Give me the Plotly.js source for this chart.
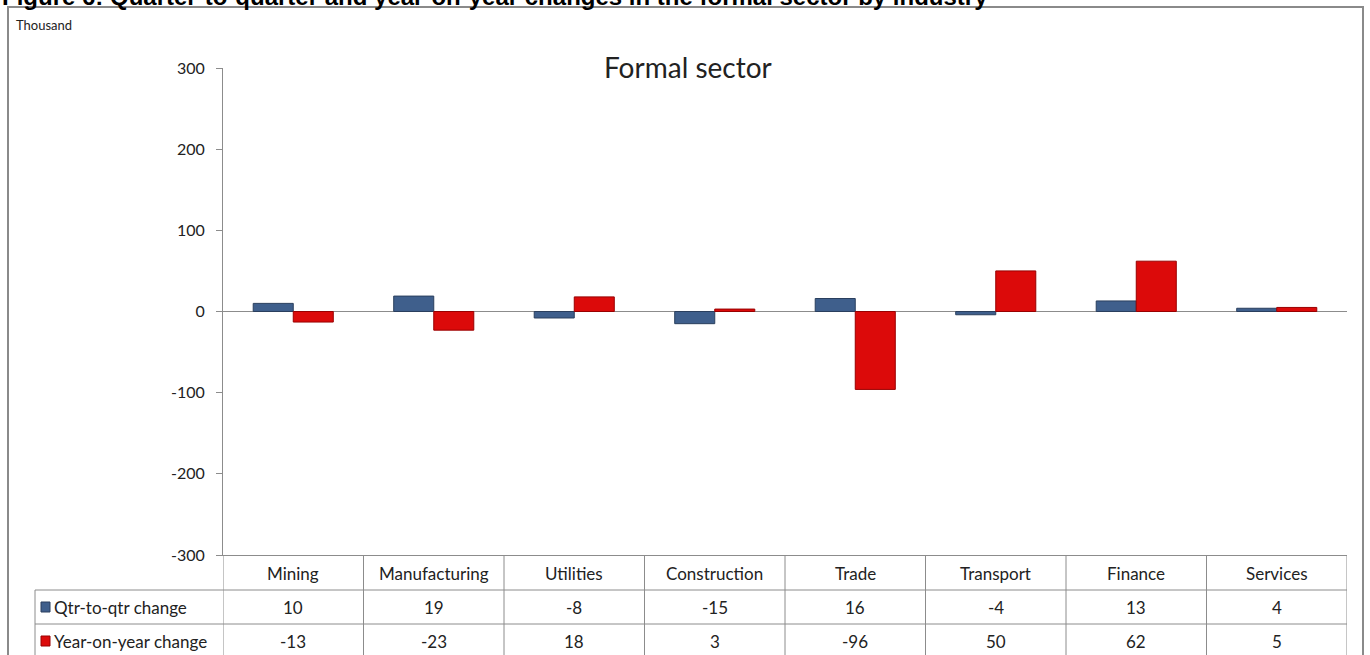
<!DOCTYPE html>
<html>
<head>
<meta charset="utf-8">
<script src="https://cdn.plot.ly/plotly-3.0.1.min.js"></script>
<style>
  html, body { margin: 0; padding: 0; background: #fff; }
  #chart { width: 1370px; height: 655px; }
</style>
</head>
<body>
<div id="chart"></div>
<script>
// ---- Data ----
const categories = ['Mining', 'Manufacturing', 'Utilities', 'Construction', 'Trade', 'Transport', 'Finance', 'Services'];
const qtrChange = [10, 19, -8, -15, 16, -4, 13, 4];
const yoyChange = [-13, -23, 18, 3, -96, 50, 62, 5];
const seriesNames = ['Qtr-to-qtr change', 'Year-on-year change'];
const yTicks = [-300, -200, -100, 0, 100, 200, 300];
const yTickText = ['-300', '-200', '-100', '0', '100', '200', '300'];
const figureTitle = 'Figure 6: Quarter-to-quarter and year-on-year changes in the formal sector by industry';
const chartTitle = 'Formal sector';
const unitLabel = 'Thousand';

// ---- Layout geometry ----
const W = 1370, H = 655;
const M = { l: 223, r: 23, t: 68, b: 100 };
const plotW = W - M.l - M.r, plotH = H - M.t - M.b;
const px = x => (x - M.l) / plotW;          // pixel x -> paper x
const py = y => (H - M.b - y) / plotH;      // pixel y -> paper y

const blue = '#3F5F8C', blueLine = '#2A3F5E';
const red = '#DC0A0A', redLine = '#990000';
const gridCol = '#8c8c8c';
const txtFont = { family: 'Lato, "Open Sans", sans-serif', size: 17, color: '#222' };

const traces = [
  { type: 'bar', x: categories, y: qtrChange, name: seriesNames[0],
    marker: { color: blue, line: { color: blueLine, width: 1 } } },
  { type: 'bar', x: categories, y: yoyChange, name: seriesNames[1],
    marker: { color: red, line: { color: redLine, width: 1 } } }
];

const shapes = [];
const annotations = [];

// outer border
shapes.push({ type: 'rect', xref: 'paper', yref: 'paper',
  x0: px(8), x1: px(1363), y0: py(7), y1: py(720),
  line: { color: '#8a8a8a', width: 2 } });

// table rows geometry (pixels)
const rowMid = [573, 607, 641];
const tableBottom = 720;

// vertical lines at category boundaries
for (let i = 0; i <= categories.length; i++) {
  shapes.push({ type: 'line', xref: 'x', yref: 'paper',
    x0: i - 0.5, x1: i - 0.5, y0: py(555), y1: py(tableBottom),
    line: { color: gridCol, width: 1 } });
}
// horizontal row lines (including label column)
[590, 624].forEach(yy => {
  shapes.push({ type: 'line', xref: 'paper', yref: 'paper',
    x0: px(35), x1: 1, y0: py(yy), y1: py(yy),
    line: { color: gridCol, width: 1 } });
});
// label column left border
shapes.push({ type: 'line', xref: 'paper', yref: 'paper',
  x0: px(35), x1: px(35), y0: py(590), y1: py(tableBottom),
  line: { color: gridCol, width: 1 } });

// header categories and values
categories.forEach((c, i) => {
  annotations.push({ xref: 'x', yref: 'paper', x: i, y: py(rowMid[0]),
    text: c, showarrow: false, font: txtFont, xanchor: 'center', yanchor: 'middle' });
  annotations.push({ xref: 'x', yref: 'paper', x: i, y: py(rowMid[1]),
    text: String(qtrChange[i]), showarrow: false, font: txtFont, xanchor: 'center', yanchor: 'middle' });
  annotations.push({ xref: 'x', yref: 'paper', x: i, y: py(rowMid[2]),
    text: String(yoyChange[i]), showarrow: false, font: txtFont, xanchor: 'center', yanchor: 'middle' });
});

// legend swatches + labels
[[blue, blueLine], [red, redLine]].forEach((col, k) => {
  const yc = rowMid[k + 1];
  shapes.push({ type: 'rect', xref: 'paper', yref: 'paper',
    x0: px(41), x1: px(50), y0: py(yc + 5), y1: py(yc - 5),
    fillcolor: col[0], line: { color: col[1], width: 1 } });
  annotations.push({ xref: 'paper', yref: 'paper', x: px(52), y: py(yc),
    text: seriesNames[k], showarrow: false, font: txtFont, xanchor: 'left', yanchor: 'middle' });
});

// figure title (clipped at top, as in the reference)
annotations.push({ xref: 'paper', yref: 'paper', x: px(0), y: py(12),
  text: '<b>' + figureTitle + '</b>', showarrow: false,
  font: { family: '"Liberation Sans", Arial, sans-serif', size: 24, color: '#000' },
  xanchor: 'left', yanchor: 'bottom' });

// unit label
annotations.push({ xref: 'paper', yref: 'paper', x: px(14), y: py(25),
  text: unitLabel, showarrow: false,
  font: { family: 'Lato, "Open Sans", sans-serif', size: 13, color: '#222' },
  xanchor: 'left', yanchor: 'middle' });

// chart title
annotations.push({ xref: 'paper', yref: 'paper', x: px(688), y: py(67),
  text: chartTitle, showarrow: false,
  font: { family: 'Lato, "Open Sans", sans-serif', size: 28, color: '#222' },
  xanchor: 'center', yanchor: 'middle' });

const layout = {
  width: W, height: H,
  margin: M,
  paper_bgcolor: '#fff', plot_bgcolor: '#fff',
  showlegend: false,
  barmode: 'group', bargap: 0.43, bargroupgap: 0,
  xaxis: { type: 'category', range: [-0.5, categories.length - 0.5],
    showticklabels: false, ticks: '', showgrid: false, zeroline: false,
    showline: true, linecolor: gridCol, linewidth: 1, fixedrange: true },
  yaxis: { range: [-300, 300], tickmode: 'array', tickvals: yTicks, ticktext: yTickText,
    ticks: 'outside', ticklen: 6, tickcolor: gridCol, tickwidth: 1,
    showline: true, linecolor: gridCol, linewidth: 1, showgrid: false,
    zeroline: true, zerolinecolor: gridCol, zerolinewidth: 1,
    ticklabelstandoff: 8,
    tickfont: { family: 'Lato, "Open Sans", sans-serif', size: 16, color: '#222' },
    fixedrange: true },
  shapes: shapes,
  annotations: annotations
};

Plotly.newPlot('chart', traces, layout, { displayModeBar: false, staticPlot: true });
</script>
</body>
</html>
